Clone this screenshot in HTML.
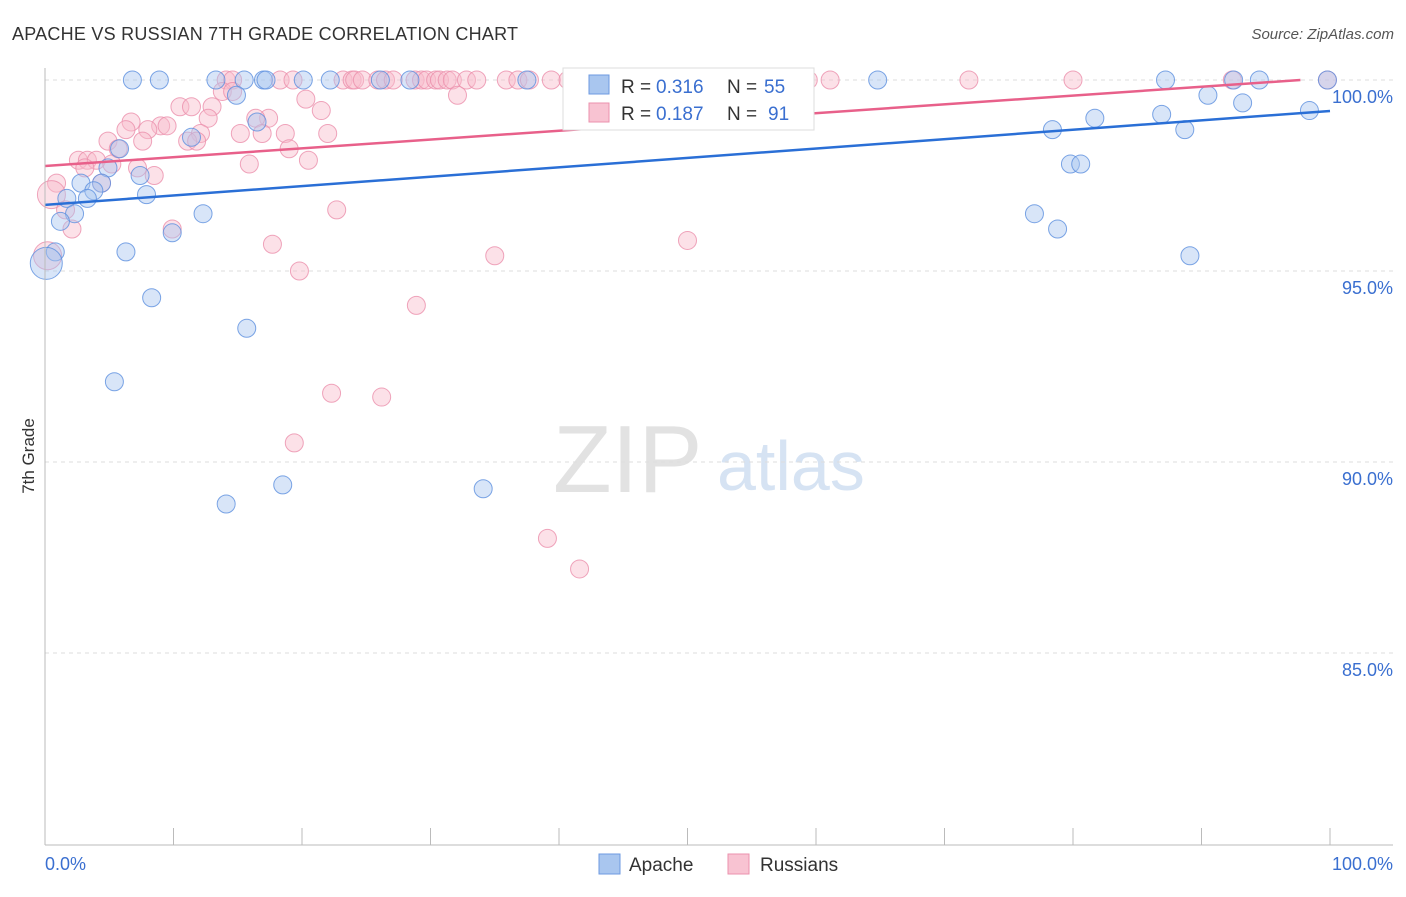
<!DOCTYPE html>
<html><head><meta charset="utf-8"><style>
body{margin:0;background:#fff;font-family:"Liberation Sans",sans-serif}
svg text{font-family:"Liberation Sans",sans-serif}
</style></head><body>
<svg id="chart" width="1406" height="892" xmlns="http://www.w3.org/2000/svg">
<text x="12" y="40" font-size="18" fill="#333" textLength="506">APACHE VS RUSSIAN 7TH GRADE CORRELATION CHART</text>
<text x="1394" y="39" font-size="15" fill="#555" text-anchor="end" font-style="italic">Source: ZipAtlas.com</text>
<text x="553" y="492" font-size="96" fill="#e2e2e2" font-family="Liberation Serif">ZIP</text>
<text x="717" y="490" font-size="70" fill="#d6e3f3">atlas</text>
<g id="grid"></g>
<g id="marks"></g>
<g id="lines"></g>
<line x1="45" y1="68" x2="45" y2="845" stroke="#bbb"/>
<line x1="45" y1="845" x2="1393" y2="845" stroke="#bbb"/>
<text transform="translate(34,456) rotate(-90)" font-size="17" fill="#333" text-anchor="middle">7th Grade</text>
<text x="45" y="870" font-size="18" fill="#3a6fd0">0.0%</text>
<text x="1393" y="870" font-size="18" fill="#3a6fd0" text-anchor="end">100.0%</text>
<g>
<rect x="563" y="68" width="251" height="62" fill="#fff" stroke="#ddd"/>
<rect x="589" y="75" width="20" height="19" fill="#a9c6ef" stroke="#6d9ae0"/>
<rect x="589" y="103" width="20" height="19" fill="#f8c3d2" stroke="#eb92ad"/>
<text x="621" y="93" font-size="19" fill="#333">R =</text>
<text x="656" y="93" font-size="19" fill="#3a6fd0">0.316</text>
<text x="727" y="93" font-size="19" fill="#333">N =</text>
<text x="764" y="93" font-size="19" fill="#3a6fd0">55</text>
<text x="621" y="120" font-size="19" fill="#333">R =</text>
<text x="656" y="120" font-size="19" fill="#3a6fd0">0.187</text>
<text x="727" y="120" font-size="19" fill="#333">N =</text>
<text x="768" y="120" font-size="19" fill="#3a6fd0">91</text>
</g>
<g>
<rect x="599" y="854" width="21" height="20" fill="#a9c6ef" stroke="#6d9ae0"/>
<text x="629" y="871" font-size="19" fill="#333">Apache</text>
<rect x="728" y="854" width="21" height="20" fill="#f8c3d2" stroke="#eb92ad"/>
<text x="760" y="871" font-size="19" fill="#333">Russians</text>
</g>
</svg>
<script>
const yTicks=[100,95,90,85];
const yTickLabels=["100.0%","95.0%","90.0%","85.0%"];
const xTicks=[0,10,20,30,40,50,60,70,80,90,100];
const apacheX=[6.8,8.9,13.3,15.5,17.0,17.2,20.1,22.2,26.1,28.4,37.5,64.8,87.2,92.5,94.5,99.8,14.9,16.5,11.4,5.8,4.9,7.4,2.8,4.4,3.8,1.7,3.3,7.9,2.3,1.2,12.3,9.9,6.3,0.8,0.1,8.3,15.7,5.4,14.1,18.5,34.1,78.4,81.7,86.9,90.5,93.2,88.7,98.4,79.8,80.6,77.0,78.8,89.1];
const apacheY=[100,100,100,100,100,100,100,100,100,100,100,100,100,100,100,100,99.6,98.9,98.5,98.2,97.7,97.5,97.3,97.3,97.1,96.9,96.9,97.0,96.5,96.3,96.5,96.0,95.5,95.5,95.2,94.3,93.5,92.1,88.9,89.4,89.3,98.7,99.0,99.1,99.6,99.4,98.7,99.2,97.8,97.8,96.5,96.1,95.4];
const apacheR=[9,9,9,9,9,9,9,9,9,9,9,9,9,9,9,9,9,9,9,9,9,9,9,9,9,9,9,9,9,9,9,9,9,9,16,9,9,9,9,9,9,9,9,9,9,9,9,9,9,9,9,9,9];
const rusX=[14.1,23.2,23.9,24.1,24.7,25.9,26.5,27.1,28.8,29.3,29.7,30.4,30.7,31.3,31.7,32.8,33.6,35.9,36.8,37.7,39.4,40.7,44.0,46.7,50.5,51.0,51.4,52.4,55.6,59.4,61.1,71.9,80.0,92.4,99.8,18.3,14.6,19.3,13.8,14.6,32.1,20.3,10.5,11.4,13.0,21.5,12.7,6.7,17.4,16.4,9.0,9.5,6.3,8.0,12.1,15.2,16.9,18.7,22.0,11.1,4.9,11.8,7.6,19.0,5.7,2.6,3.3,4.0,20.5,15.9,3.1,7.2,5.2,8.5,0.9,4.4,0.5,1.6,2.1,9.9,22.7,0.2,17.7,19.8,50.0,35.0,28.9,22.3,26.2,19.4,39.1,41.6];
const rusY=[100,100,100,100,100,100,100,100,100,100,100,100,100,100,100,100,100,100,100,100,100,100,100,100,100,100,100,100,100,100,100,100,100,100,100,100,100,100,99.7,99.7,99.6,99.5,99.3,99.3,99.3,99.2,99.0,98.9,99.0,99.0,98.8,98.8,98.7,98.7,98.6,98.6,98.6,98.6,98.6,98.4,98.4,98.4,98.4,98.2,98.2,97.9,97.9,97.9,97.9,97.8,97.7,97.7,97.8,97.5,97.3,97.3,97.0,96.6,96.1,96.1,96.6,95.4,95.7,95.0,95.8,95.4,94.1,91.8,91.7,90.5,88.0,87.2];
const rusR=rusX.map((_, i)=>i===76||i===81?14:9);
const apacheTrend=[[0,96.73],[100,99.19]];
const rusTrend=[[0,97.75],[97.7,100]];
const X=v=>45+v*12.85, Y=v=>80+(100-v)*38.2;
const NS="http://www.w3.org/2000/svg";
const mk=(t,a,p)=>{const e=document.createElementNS(NS,t);for(const k in a)e.setAttribute(k,a[k]);p.appendChild(e);return e;};
const grid=document.getElementById('grid'),marks=document.getElementById('marks'),lines=document.getElementById('lines');
yTicks.forEach((t,i)=>{
 const l=mk('line',{x1:45,x2:1393,y1:Y(t),y2:Y(t),stroke:'#ddd','stroke-dasharray':'4,4'},grid);
 
 
 const tx=mk('text',{x:1393,y:Y(t)+23,'font-size':18,fill:'#3a6fd0','text-anchor':'end'},grid);
 tx.textContent=yTickLabels[i];
 
 
});
xTicks.forEach(t=>{
 const l=mk('line',{x1:X(t),x2:X(t),y1:828,y2:845,stroke:'#bbb'},grid);
 
 
});
function dots(xs,ys,rs,fill,stroke,name){
 xs.forEach((x,i)=>{
  const c=mk('circle',{cx:X(x),cy:Y(ys[i]),r:rs[i],fill:fill,'fill-opacity':0.45,stroke:stroke,'stroke-opacity':0.8,'stroke-width':1},marks);
  
  
 });
}
dots(rusX,rusY,rusR,'#f8bccd','#eb8fab','russian-point');
dots(apacheX,apacheY,apacheR,'#a9c6ef','#5b8ede','apache-point');
const a=mk('line',{x1:X(apacheTrend[0][0]),y1:Y(apacheTrend[0][1]),x2:X(apacheTrend[1][0]),y2:Y(apacheTrend[1][1]),stroke:'#2a6fd6','stroke-width':2.5},lines);


const r=mk('line',{x1:X(rusTrend[0][0]),y1:Y(rusTrend[0][1]),x2:X(rusTrend[1][0]),y2:Y(rusTrend[1][1]),stroke:'#e8608a','stroke-width':2.5},lines);


</script>
</body></html>
